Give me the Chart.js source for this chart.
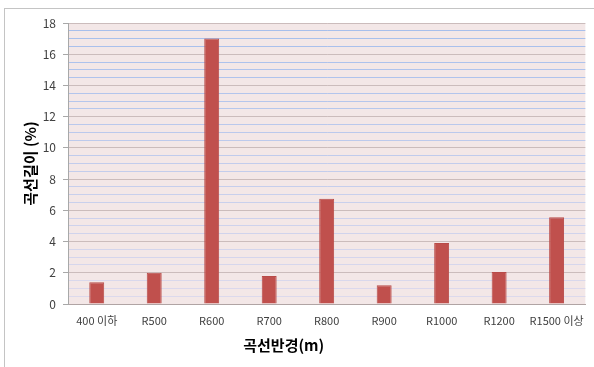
<!DOCTYPE html>
<html>
<head>
<meta charset="utf-8">
<script src="https://cdn.jsdelivr.net/npm/chart.js@4/dist/chart.umd.min.js"></script>
<style>
  html, body { margin: 0; padding: 0; background: #ffffff; }
  #wrap { position: relative; width: 594px; height: 367px; overflow: hidden; }
  #frame { position: absolute; left: 4px; top: 8px; width: 620px; height: 400px;
           border-left: 1px solid #c4c4c4; border-top: 1px solid #c4c4c4; }
  canvas { position: absolute; left: 0; top: 0; }
</style>
</head>
<body>
<div id="wrap">
  <div id="frame"></div>
  <canvas id="chart" width="594" height="367"></canvas>
</div>
<script>
// 곡선반경별 곡선길이 비율
const categories = ['400 이하', 'R500', 'R600', 'R700', 'R800', 'R900', 'R1000', 'R1200', 'R1500 이상'];
const curveLengthPct = [1.4, 2.0, 17.0, 1.8, 6.75, 1.2, 3.9, 2.05, 5.55];
const yTickValues = [0, 2, 4, 6, 8, 10, 12, 14, 16, 18];
const xTitle = '곡선반경(m)';
const yTitle = '곡선길이 (%)';

const FONT = "'Noto Sans CJK KR', 'Noto Sans', sans-serif";

// minor gridlines shade from pale lavender at the bottom to blue at the top
function minorColor(v) {
  const t = Math.max(0, Math.min(1, v / 18));
  const a = [222, 218, 236], b = [165, 190, 236];
  const c = a.map((x, i) => Math.round(x + (b[i] - x) * t));
  return `rgb(${c[0]},${c[1]},${c[2]})`;
}
const isMajor = v => yTickValues.includes(Math.round(v * 100) / 100);

const plotBackground = {
  id: 'plotBackground',
  beforeDraw(chart) {
    const { ctx, chartArea: a } = chart;
    ctx.save();
    ctx.fillStyle = '#f3e7e7';
    ctx.fillRect(a.left, a.top, a.right - a.left, a.bottom - a.top);
    ctx.restore();
  }
};

const axisTitles = {
  id: 'axisTitles',
  afterDraw(chart) {
    const { ctx, chartArea: a } = chart;
    ctx.save();
    ctx.fillStyle = '#000000';
    ctx.font = `bold 15px ${FONT}`;
    ctx.textAlign = 'center';
    ctx.textBaseline = 'middle';
    ctx.fillText(xTitle, a.left + (a.right - a.left) * 0.417, 345);
    ctx.translate(30, (a.top + a.bottom) / 2);
    ctx.rotate(-Math.PI / 2);
    ctx.fillText(yTitle, 0, 0);
    ctx.restore();
  }
};

new Chart(document.getElementById('chart'), {
  type: 'bar',
  data: {
    labels: categories,
    datasets: [{
      data: curveLengthPct,
      backgroundColor: '#c0504d',
      borderColor: '#b84b48',
      borderWidth: 1,
      categoryPercentage: 1,
      barPercentage: 0.26
    }]
  },
  options: {
    responsive: false,
    animation: false,
    devicePixelRatio: 1,
    layout: { padding: { left: 0, right: 6, top: 23, bottom: 0 } },
    plugins: { legend: { display: false }, tooltip: { enabled: false } },
    scales: {
      x: {
        afterFit(scale) { scale.height = 63; },
        grid: { display: false, drawTicks: false },
        border: { color: '#b0a4a4', width: 1 },
        ticks: {
          color: '#404040', padding: 10,
          font: { family: FONT, size: 11 },
          maxRotation: 0, autoSkip: false
        }
      },
      y: {
        min: 0, max: 18,
        afterFit(scale) { scale.width = 68; },
        afterBuildTicks(scale) {
          const t = [];
          for (let i = 0; i <= 36; i++) t.push({ value: i * 0.5 });
          scale.ticks = t;
        },
        border: { color: '#a8a8a8', width: 1 },
        grid: {
          tickLength: 5,
          color: c => isMajor(c.tick.value) ? '#cbbcbc' : minorColor(c.tick.value),
          tickColor: c => isMajor(c.tick.value) ? '#a8a8a8' : 'rgba(0,0,0,0)',
          lineWidth: 1
        },
        ticks: {
          color: '#404040', padding: 7,
          font: { family: FONT, size: 12 },
          autoSkip: false,
          callback: v => isMajor(v) ? String(Math.round(v)) : ''
        }
      }
    }
  },
  plugins: [plotBackground, axisTitles]
});
</script>
</body>
</html>
